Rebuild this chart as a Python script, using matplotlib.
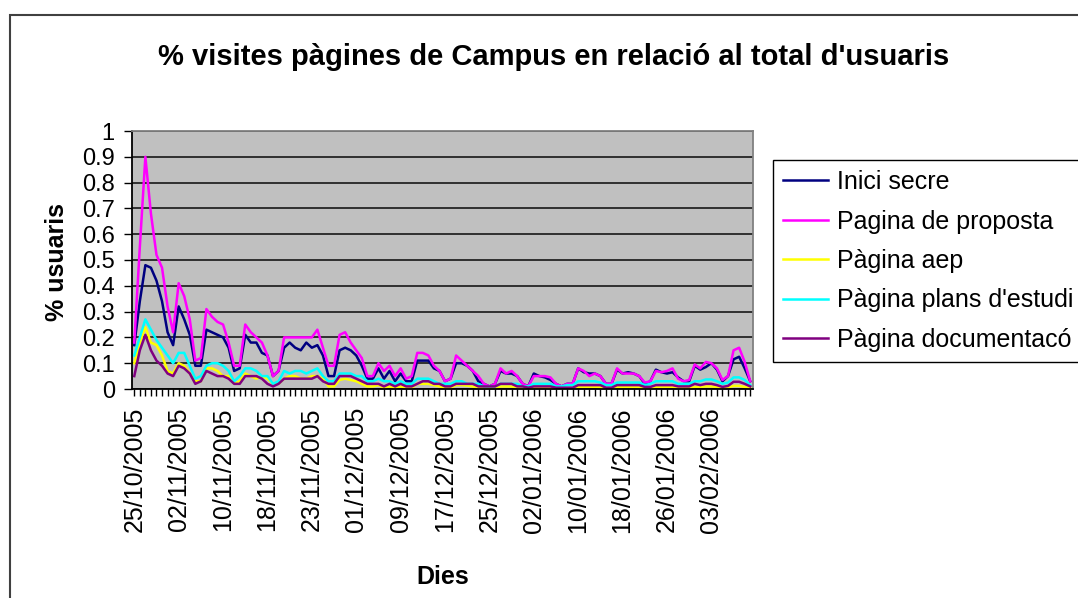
import matplotlib
matplotlib.use('Agg')
import matplotlib.pyplot as plt
from matplotlib.patches import Rectangle
from matplotlib.ticker import FormatStrFormatter

plt.rcParams['font.family'] = ['Liberation Sans', 'DejaVu Sans']

# Data (one value per day, 112 days)
inici_secre = [0.17, 0.34, 0.48, 0.47, 0.42, 0.34, 0.22, 0.17, 0.32, 0.27, 0.21, 0.09, 0.09, 0.23, 0.22,
               0.21, 0.20, 0.16, 0.07, 0.08, 0.21, 0.18, 0.18, 0.14, 0.13, 0.05, 0.07, 0.16, 0.18, 0.16,
               0.15, 0.18, 0.16, 0.17, 0.13, 0.05, 0.05, 0.15,
               0.16, 0.15, 0.13, 0.09, 0.04, 0.04, 0.08, 0.04, 0.07, 0.03, 0.06, 0.03, 0.03, 0.11, 0.11,
               0.11, 0.08, 0.07, 0.03, 0.04, 0.10, 0.10, 0.09, 0.07, 0.03, 0.02, 0.01, 0.02, 0.07, 0.06,
               0.06, 0.05, 0.02, 0.01, 0.06, 0.05, 0.045, 0.035,
               0.02, 0.01, 0.02, 0.02, 0.08, 0.065, 0.06, 0.06, 0.05, 0.02, 0.02, 0.075, 0.06, 0.065,
               0.06, 0.05, 0.02, 0.03, 0.075, 0.065, 0.06, 0.065, 0.045, 0.03, 0.03, 0.09, 0.075, 0.085,
               0.10, 0.075, 0.03, 0.05, 0.115, 0.125, 0.08, 0.03]

pagina_proposta = [0.18, 0.55, 0.90, 0.68, 0.52, 0.47, 0.32, 0.22, 0.41, 0.36, 0.27, 0.11, 0.12, 0.31, 0.28,
                   0.26, 0.25, 0.18, 0.09, 0.09, 0.25, 0.22, 0.20, 0.18, 0.13, 0.05, 0.07, 0.20, 0.20, 0.20,
                   0.20, 0.20, 0.20, 0.23, 0.16, 0.09, 0.09, 0.21,
                   0.22, 0.18, 0.15, 0.12, 0.05, 0.05, 0.10, 0.07, 0.09, 0.05, 0.08, 0.04, 0.05, 0.14, 0.14,
                   0.13, 0.09, 0.07, 0.03, 0.04, 0.13, 0.11, 0.09, 0.07, 0.05, 0.02, 0.01, 0.02, 0.08, 0.06,
                   0.07, 0.05, 0.02, 0.01, 0.05, 0.05, 0.05, 0.045,
                   0.02, 0.01, 0.02, 0.02, 0.08, 0.07, 0.05, 0.06, 0.05, 0.02, 0.02, 0.08, 0.06, 0.06,
                   0.06, 0.05, 0.025, 0.03, 0.07, 0.065, 0.07, 0.08, 0.04, 0.03, 0.035, 0.095, 0.08, 0.105,
                   0.10, 0.08, 0.035, 0.05, 0.15, 0.16, 0.105, 0.03]

pagina_aep = [0.10, 0.18, 0.24, 0.18, 0.17, 0.13, 0.07, 0.06, 0.10, 0.09, 0.06, 0.03, 0.03, 0.08, 0.08,
              0.07, 0.05, 0.05, 0.02, 0.03, 0.06, 0.05, 0.04, 0.05, 0.04, 0.02, 0.02, 0.04, 0.05, 0.05,
              0.04, 0.04, 0.05, 0.05, 0.04, 0.01, 0.01, 0.035,
              0.04, 0.035, 0.03, 0.02, 0.01, 0.01, 0.015, 0.005, 0.01, 0.005, 0.01, 0.005, 0.005, 0.02, 0.02,
              0.02, 0.015, 0.01, 0.005, 0.005, 0.015, 0.015, 0.013, 0.01, 0.005, 0.004, 0.003, 0.003, 0.01, 0.01,
              0.01, 0.006, 0.003, 0.002, 0.006, 0.006, 0.006, 0.004,
              0.003, 0.002, 0.003, 0.003, 0.008, 0.008, 0.008, 0.008, 0.006, 0.003, 0.003, 0.007, 0.007, 0.007,
              0.007, 0.006, 0.003, 0.004, 0.008, 0.008, 0.008, 0.008, 0.005, 0.004, 0.004, 0.008, 0.008, 0.01,
              0.01, 0.008, 0.004, 0.006, 0.012, 0.012, 0.008, 0.004]

pagina_plans = [0.13, 0.20, 0.27, 0.23, 0.19, 0.16, 0.13, 0.10, 0.14, 0.14, 0.09, 0.04, 0.05, 0.09, 0.10,
                0.10, 0.09, 0.07, 0.03, 0.05, 0.08, 0.08, 0.07, 0.05, 0.05, 0.02, 0.03, 0.07, 0.06, 0.07,
                0.07, 0.06, 0.07, 0.08, 0.05, 0.03, 0.03, 0.06,
                0.06, 0.06, 0.05, 0.05, 0.03, 0.03, 0.04, 0.03, 0.03, 0.02, 0.03, 0.02, 0.02, 0.04, 0.04,
                0.04, 0.03, 0.02, 0.02, 0.02, 0.03, 0.03, 0.02, 0.02, 0.02, 0.01, 0.01, 0.01, 0.02, 0.02,
                0.02, 0.02, 0.01, 0.01, 0.02, 0.02, 0.02, 0.02,
                0.01, 0.01, 0.015, 0.015, 0.03, 0.03, 0.03, 0.03, 0.025, 0.015, 0.015, 0.025, 0.025, 0.025,
                0.025, 0.025, 0.015, 0.02, 0.03, 0.03, 0.03, 0.03, 0.02, 0.02, 0.02, 0.03, 0.03, 0.037,
                0.037, 0.03, 0.02, 0.025, 0.045, 0.045, 0.035, 0.015]

pagina_doc = [0.05, 0.15, 0.21, 0.15, 0.11, 0.09, 0.06, 0.05, 0.09, 0.08, 0.06, 0.02, 0.03, 0.07, 0.06,
              0.05, 0.05, 0.04, 0.02, 0.02, 0.05, 0.05, 0.05, 0.04, 0.02, 0.01, 0.02, 0.04, 0.04, 0.04,
              0.04, 0.04, 0.04, 0.05, 0.03, 0.02, 0.02, 0.05,
              0.05, 0.05, 0.04, 0.03, 0.02, 0.02, 0.02, 0.01, 0.02, 0.01, 0.02, 0.01, 0.01, 0.02, 0.03,
              0.03, 0.02, 0.02, 0.01, 0.01, 0.02, 0.02, 0.02, 0.02, 0.01, 0.01, 0.01, 0.01, 0.02, 0.02,
              0.02, 0.01, 0.01, 0.005, 0.01, 0.01, 0.01, 0.01,
              0.005, 0.005, 0.005, 0.005, 0.015, 0.015, 0.015, 0.015, 0.015, 0.005, 0.005, 0.015, 0.015, 0.015,
              0.015, 0.015, 0.008, 0.008, 0.015, 0.015, 0.015, 0.015, 0.01, 0.01, 0.01, 0.02, 0.015, 0.02,
              0.02, 0.015, 0.008, 0.012, 0.028, 0.028, 0.02, 0.01]

series_names = ['Inici secre', 'Pagina de proposta', 'Pàgina aep', "Pàgina plans d'estudi", 'Pàgina documentacó']
series_colors = ['#000080', '#FF00FF', '#FFFF00', '#00FFFF', '#800080']

# every 8th day gets a label
date_labels = ['25/10/2005', '02/11/2005', '10/11/2005', '18/11/2005', '23/11/2005', '01/12/2005',
               '09/12/2005', '17/12/2005', '25/12/2005', '02/01/2006', '10/01/2006', '18/01/2006',
               '26/01/2006', '03/02/2006']
y_ticks = [0, 0.1, 0.2, 0.3, 0.4, 0.5, 0.6, 0.7, 0.8, 0.9, 1]

fig = plt.figure(figsize=(10.78, 5.98), dpi=100)
ax = fig.add_axes([131.5 / 1078, 1 - 389 / 598, (753 - 131.5) / 1078, 258 / 598])

all_series = [inici_secre, pagina_proposta, pagina_aep, pagina_plans, pagina_doc]
n = len(inici_secre)
days = list(range(n))
for vals, name, col in zip(all_series, series_names, series_colors):
    ax.plot(days, vals, color=col, lw=1.8, label=name)

ax.set_facecolor('#C0C0C0')
ax.set_xlim(-0.5, n - 0.5)
ax.set_ylim(0, 1)

# y axis
ax.set_yticks(y_ticks)
ax.yaxis.set_major_formatter(FormatStrFormatter('%g'))
ax.yaxis.grid(True, color='#303030', lw=1.4)
ax.set_axisbelow(True)
ax.tick_params(axis='y', direction='out', length=6, width=1, labelsize=17, pad=6)

# x axis: tick on every day, label on every 8th
ax.set_xticks(list(range(0, 8 * len(date_labels), 8)))
ax.set_xticklabels(date_labels, rotation=90, fontsize=18)
ax.set_xticks(days, minor=True)
ax.tick_params(axis='x', which='both', direction='out', length=5, width=1, pad=8)

for side in ['left', 'bottom']:
    ax.spines[side].set_color('black')
    ax.spines[side].set_linewidth(1.3)
for side in ['top', 'right']:
    ax.spines[side].set_color('#808080')
    ax.spines[side].set_linewidth(1.3)

fig.text(0.514, 1 - 57 / 598, "% visites pàgines de Campus en relació al total d'usuaris",
         ha='center', va='center', fontsize=21, weight='bold')
fig.text(57 / 1078, 1 - 262 / 598, '% usuaris', rotation=90, ha='center', va='center',
         fontsize=18, weight='bold')
fig.text(443 / 1078, 1 - 577 / 598, 'Dies', ha='center', va='center', fontsize=18, weight='bold')

leg = fig.legend(loc='upper left', bbox_to_anchor=(773 / 1078, 1 - 160 / 598), frameon=True,
                 fancybox=False, edgecolor='black', framealpha=1, fontsize=18, handlelength=1.8,
                 handletextpad=0.35, labelspacing=0.62, borderpad=0.4, borderaxespad=0)
leg.get_frame().set_linewidth(1.0)

# outer chart border (runs off the right and bottom of the picture)
fig.patches.append(Rectangle((10 / 1078, -0.5), 2, 1 - 15 / 598 + 0.5, transform=fig.transFigure,
                             fill=False, edgecolor='#404040', lw=1.5))

fig.savefig('out.png', dpi=100)
